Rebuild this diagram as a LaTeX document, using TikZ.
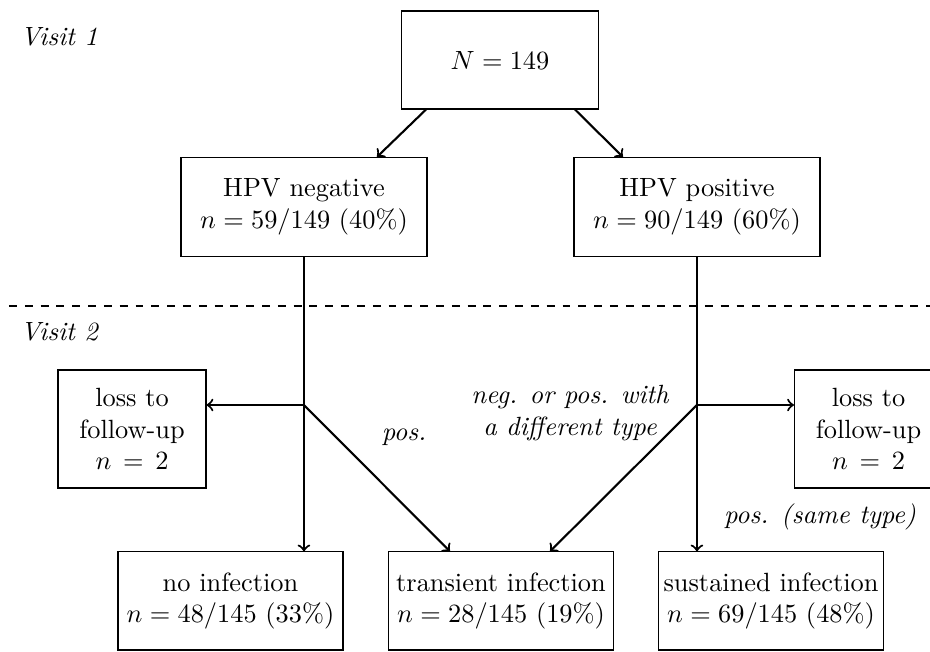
\documentclass[tikz,border=0pt]{standalone}
\begin{document}
\begin{tikzpicture}[
  box/.style={draw, align=center, inner sep=2pt},
  flow/.style={thick, ->},
  tag/.style={font=\itshape, align=center}]
\useasboundingbox (0,0) rectangle (12.4,8.693);
\node[tag, anchor=west] (v1) at (0.15,8.2) {Visit 1};
\node[tag, anchor=west] (v2) at (0.15,4.27) {Visit 2};
\draw[dashed] (0.12,4.613) -- (12.4,4.613);
\node[box, minimum width=2.627cm, minimum height=1.307cm] (N) at (6.667,7.893) {$N = 149$};
\node[box, minimum width=3.28cm, minimum height=1.32cm] (neg) at (4.053,5.933) {HPV negative\\$n = 59/149$ (40\%)};
\node[box, minimum width=3.28cm, minimum height=1.32cm] (pos) at (9.293,5.933) {HPV positive\\$n = 90/149$ (60\%)};
\node[box, minimum width=1.973cm, minimum height=1.573cm] (lossl) at (1.76,2.973) {loss to\\follow-up\\$n \,=\, 2$};
\node[box, minimum width=1.973cm, minimum height=1.573cm] (lossr) at (11.58,2.973) {loss to\\follow-up\\$n \,=\, 2$};
\node[box, minimum width=3cm, minimum height=1.307cm] (noinf) at (3.073,0.68) {no infection\\$n = 48/145$ (33\%)};
\node[box, minimum width=3cm, minimum height=1.307cm] (trans) at (6.68,0.68) {transient infection\\$n = 28/145$ (19\%)};
\node[box, minimum width=3cm, minimum height=1.307cm] (sust) at (10.28,0.68) {sustained infection\\$n = 69/145$ (48\%)};
\coordinate (jl) at (4.053,3.293);
\coordinate (jr) at (9.293,3.293);
\draw[flow] ([xshift=-0.987cm]N.south) -- ([xshift=0.973cm]neg.north);
\draw[flow] ([xshift=1cm]N.south) -- ([xshift=-0.987cm]pos.north);
\draw[flow] (neg.south) -- (jl |- noinf.north);
\draw[flow] (pos.south) -- (jr |- sust.north);
\draw[flow] (jl) -- (jl -| lossl.east);
\draw[flow] (jr) -- (jr -| lossr.west);
\draw[flow] (jl) -- ([xshift=-0.68cm]trans.north);
\draw[flow] (jr) -- ([xshift=0.653cm]trans.north);
\node[tag] (lpos) at (5.387,2.867) {pos.};
\node[tag] (lneg) at (7.6,3.187) {neg. or pos. with\\a different type};
\node[tag] (lsame) at (10.933,1.8) {pos. (same type)};
\end{tikzpicture}
\end{document}
